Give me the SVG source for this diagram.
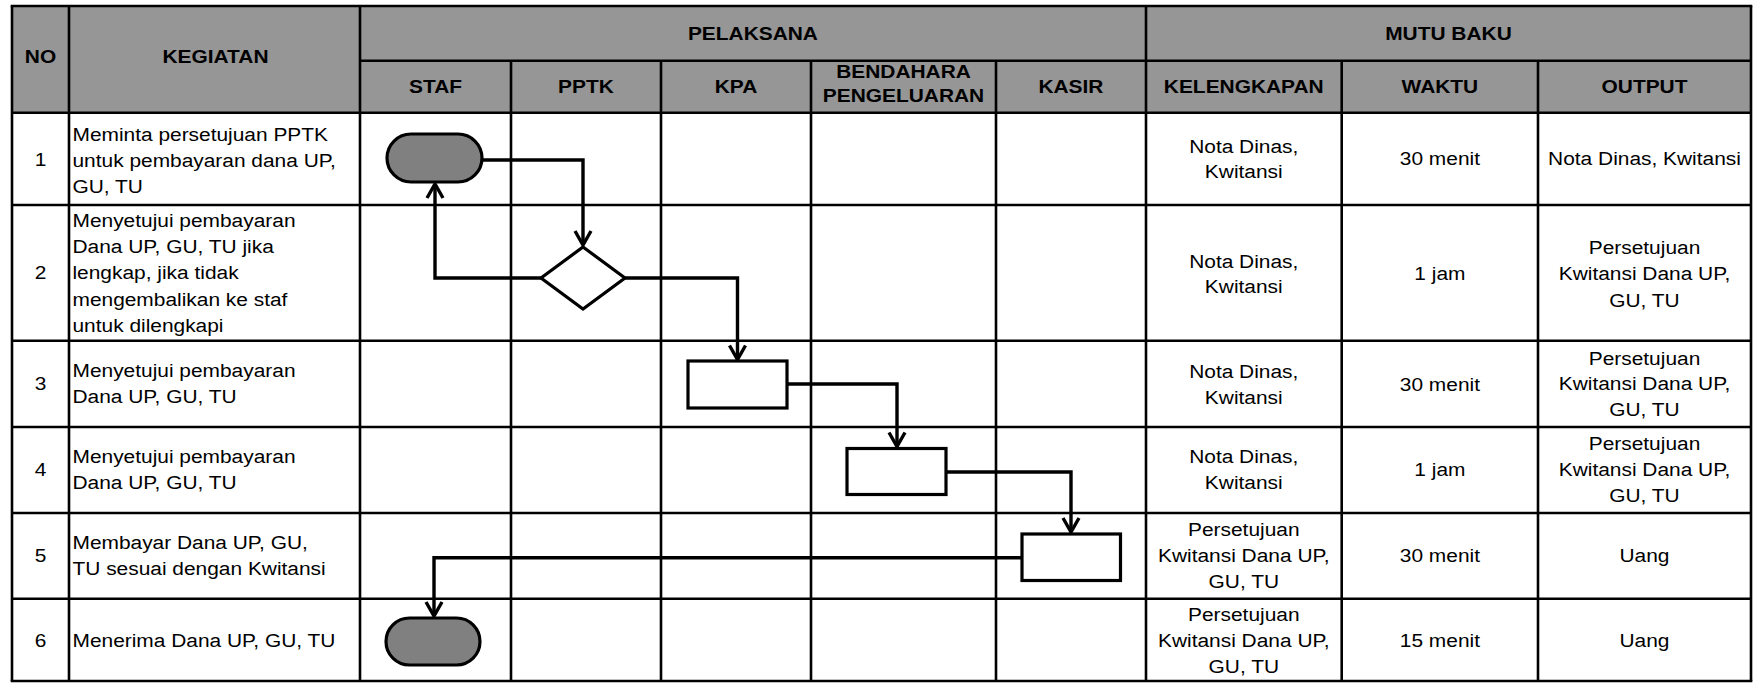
<svg xmlns="http://www.w3.org/2000/svg" width="1756" height="683" viewBox="0 0 1756 683">
<style>
.grid line{stroke:#000;stroke-width:2.6}
.t{font-family:"Liberation Sans",Arial,sans-serif;font-size:19px;fill:#000}
.b{font-weight:bold}
.m{text-anchor:middle}
.node{stroke:#000;stroke-width:3.2}
.term{fill:#808080}
.box{fill:#fff}
.conn{fill:none;stroke:#000;stroke-width:3.4;stroke-linejoin:miter}
</style>
<defs>
<marker id="arr" markerUnits="userSpaceOnUse" markerWidth="20" markerHeight="20" refX="0" refY="0" orient="auto" overflow="visible">
<path d="M-14,-8 L0,0 L-14,8" fill="none" stroke="#000" stroke-width="3.4"/>
</marker>
</defs>
<rect width="1756" height="683" fill="#fff"/>
<rect x="12" y="6" width="1739" height="106.7" fill="#969696"/>
<g id="table" class="grid">
<line x1="10.7" y1="6" x2="1752.3" y2="6"/>
<line x1="360" y1="60.7" x2="1751" y2="60.7"/>
<line x1="12" y1="112.7" x2="1751" y2="112.7"/>
<line x1="12" y1="205" x2="1751" y2="205"/>
<line x1="12" y1="340.7" x2="1751" y2="340.7"/>
<line x1="12" y1="427" x2="1751" y2="427"/>
<line x1="12" y1="513" x2="1751" y2="513"/>
<line x1="12" y1="598.7" x2="1751" y2="598.7"/>
<line x1="10.7" y1="681" x2="1752.3" y2="681"/>
<line x1="12" y1="6" x2="12" y2="681"/>
<line x1="69" y1="6" x2="69" y2="681"/>
<line x1="360" y1="6" x2="360" y2="681"/>
<line x1="511" y1="60.7" x2="511" y2="681"/>
<line x1="661" y1="60.7" x2="661" y2="681"/>
<line x1="811" y1="60.7" x2="811" y2="681"/>
<line x1="996" y1="60.7" x2="996" y2="681"/>
<line x1="1146" y1="6" x2="1146" y2="681"/>
<line x1="1341.7" y1="60.7" x2="1341.7" y2="681"/>
<line x1="1538" y1="60.7" x2="1538" y2="681"/>
<line x1="1751" y1="6" x2="1751" y2="681"/>
</g>
<g id="texts" transform="scale(1.1 1)">
<g class="t b m">
<text x="36.8" y="63.5">NO</text>
<text x="195.9" y="63.5">KEGIATAN</text>
<text x="684.5" y="40.2">PELAKSANA</text>
<text x="1316.8" y="40.2">MUTU BAKU</text>
<text x="395.9" y="93.5">STAF</text>
<text x="532.7" y="93.5">PPTK</text>
<text x="669.1" y="93.5">KPA</text>
<text x="821.4" y="78.5">BENDAHARA</text>
<text x="821.4" y="102.5">PENGELUARAN</text>
<text x="973.6" y="93.5">KASIR</text>
<text x="1130.7" y="93.5">KELENGKAPAN</text>
<text x="1309" y="93.5">WAKTU</text>
<text x="1495" y="93.5">OUTPUT</text>
</g>
<g class="t m">
<text x="36.8" y="166">1</text>
<text x="36.8" y="279.5">2</text>
<text x="36.8" y="390.5">3</text>
<text x="36.8" y="476.5">4</text>
<text x="36.8" y="562.5">5</text>
<text x="36.8" y="647">6</text>
</g>
<g class="t">
<text x="65.9" y="141">Meminta persetujuan PPTK</text>
<text x="65.9" y="167">untuk pembayaran dana UP,</text>
<text x="65.9" y="193">GU, TU</text>
<text x="65.9" y="227">Menyetujui pembayaran</text>
<text x="65.9" y="253">Dana UP, GU, TU jika</text>
<text x="65.9" y="279.5">lengkap, jika tidak</text>
<text x="65.9" y="306">mengembalikan ke staf</text>
<text x="65.9" y="332">untuk dilengkapi</text>
<text x="65.9" y="377.5">Menyetujui pembayaran</text>
<text x="65.9" y="403.5">Dana UP, GU, TU</text>
<text x="65.9" y="463.5">Menyetujui pembayaran</text>
<text x="65.9" y="489.5">Dana UP, GU, TU</text>
<text x="65.9" y="549.5">Membayar Dana UP, GU,</text>
<text x="65.9" y="575.5">TU sesuai dengan Kwitansi</text>
<text x="65.9" y="647">Menerima Dana UP, GU, TU</text>
</g>
<g class="t m">
<text x="1130.7" y="153">Nota Dinas,</text>
<text x="1130.7" y="178">Kwitansi</text>
<text x="1309" y="165.5">30 menit</text>
<text x="1495" y="165.5">Nota Dinas, Kwitansi</text>
<text x="1130.7" y="268">Nota Dinas,</text>
<text x="1130.7" y="293">Kwitansi</text>
<text x="1309" y="280">1 jam</text>
<text x="1495" y="254">Persetujuan</text>
<text x="1495" y="280.5">Kwitansi Dana UP,</text>
<text x="1495" y="307">GU, TU</text>
<text x="1130.7" y="378">Nota Dinas,</text>
<text x="1130.7" y="404">Kwitansi</text>
<text x="1309" y="391">30 menit</text>
<text x="1495" y="365">Persetujuan</text>
<text x="1495" y="390.5">Kwitansi Dana UP,</text>
<text x="1495" y="416.5">GU, TU</text>
<text x="1130.7" y="463.5">Nota Dinas,</text>
<text x="1130.7" y="489.5">Kwitansi</text>
<text x="1309" y="476.5">1 jam</text>
<text x="1495" y="450.5">Persetujuan</text>
<text x="1495" y="476.5">Kwitansi Dana UP,</text>
<text x="1495" y="502.5">GU, TU</text>
<text x="1130.7" y="536.5">Persetujuan</text>
<text x="1130.7" y="562.5">Kwitansi Dana UP,</text>
<text x="1130.7" y="588">GU, TU</text>
<text x="1309" y="562.5">30 menit</text>
<text x="1495" y="562.5">Uang</text>
<text x="1130.7" y="621.5">Persetujuan</text>
<text x="1130.7" y="647.5">Kwitansi Dana UP,</text>
<text x="1130.7" y="673">GU, TU</text>
<text x="1309" y="647.5">15 menit</text>
<text x="1495" y="647.5">Uang</text>
</g>
</g>
<g id="connectors">
<path class="conn" d="M482,160 H583 V245" marker-end="url(#arr)"/>
<path class="conn" d="M541,278 H435 V184" marker-end="url(#arr)"/>
<path class="conn" d="M625,278 H737.5 V359.5" marker-end="url(#arr)"/>
<path class="conn" d="M787,384 H897 V446.5" marker-end="url(#arr)"/>
<path class="conn" d="M946,472 H1071 V532" marker-end="url(#arr)"/>
<path class="conn" d="M1022,557.7 H434 V616" marker-end="url(#arr)"/>
</g>
<g id="node-start"><rect class="node term" x="387" y="134" width="95" height="48" rx="24"/></g>
<g id="node-decision"><polygon class="node box" points="583,247 625,278 583,309 541,278"/></g>
<g id="node-kpa"><rect class="node box" x="688" y="361" width="99" height="47"/></g>
<g id="node-bendahara"><rect class="node box" x="847" y="448.5" width="99" height="46"/></g>
<g id="node-kasir"><rect class="node box" x="1022" y="534" width="98.5" height="46.5"/></g>
<g id="node-end"><rect class="node term" x="386" y="618" width="94" height="47" rx="23.5"/></g>
</svg>
